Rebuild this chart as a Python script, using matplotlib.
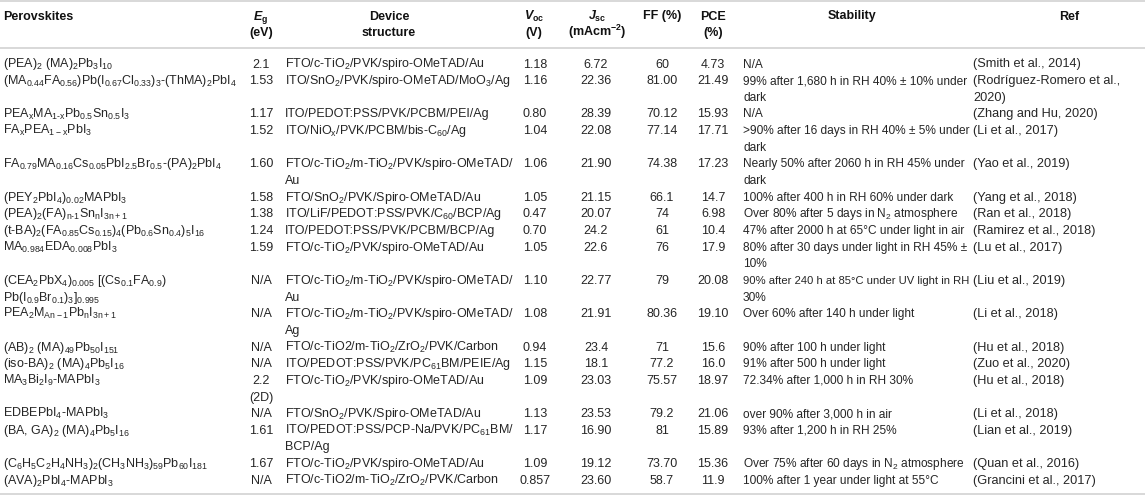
import matplotlib
matplotlib.use("Agg")
import matplotlib.pyplot as plt

plt.rcParams["font.family"] = ["Liberation Sans", "DejaVu Sans"]
plt.rcParams["mathtext.fontset"] = "custom"
plt.rcParams["mathtext.rm"] = "Liberation Sans"
plt.rcParams["mathtext.it"] = "Liberation Sans:italic:bold"
plt.rcParams["mathtext.bf"] = "Liberation Sans:bold"
plt.rcParams["mathtext.default"] = "regular"

# table content, one entry per row, "\n" = line break as in the original
perovskites = [
    r"(PEA)$_2$ (MA)$_2$Pb$_3$I$_{10}$",
    r"(MA$_{0.44}$FA$_{0.56}$)Pb(I$_{0.67}$Cl$_{0.33}$)$_3$-(ThMA)$_2$PbI$_4$",
    r"PEA$_x$MA$_{\text{1-x}}$Pb$_{0.5}$Sn$_{0.5}$I$_3$",
    r"FA$_x$PEA$_{1-x}$PbI$_3$",
    r"FA$_{0.79}$MA$_{0.16}$Cs$_{0.05}$PbI$_{2.5}$Br$_{0.5}$-(PA)$_2$PbI$_4$",
    r"(PEY$_2$PbI$_4$)$_{0.02}$MAPbI$_3$",
    r"(PEA)$_2$(FA)$_{\text{n-1}}$Sn$_n$I$_{3n+1}$",
    r"(t-BA)$_2$(FA$_{0.85}$Cs$_{0.15}$)$_4$(Pb$_{0.6}$Sn$_{0.4}$)$_5$I$_{16}$",
    r"MA$_{0.984}$EDA$_{0.008}$PbI$_3$",
    "(CEA$_2$PbX$_4$)$_{0.005}$ [(Cs$_{0.1}$FA$_{0.9}$)\nPb(I$_{0.9}$Br$_{0.1}$)$_3$]$_{0.995}$",
    r"PEA$_2$M$_{An-1}$Pb$_n$I$_{3n+1}$",
    r"(AB)$_2$ (MA)$_{49}$Pb$_{50}$I$_{151}$",
    r"(iso-BA)$_2$ (MA)$_4$Pb$_5$I$_{16}$",
    r"MA$_3$Bi$_2$I$_9$-MAPbI$_3$",
    r"EDBEPbI$_4$-MAPbI$_3$",
    r"(BA, GA)$_2$ (MA)$_4$Pb$_5$I$_{16}$",
    r"(C$_6$H$_5$C$_2$H$_4$NH$_3$)$_2$(CH$_3$NH$_3$)$_{59}$Pb$_{60}$I$_{181}$",
    r"(AVA)$_2$PbI$_4$-MAPbI$_3$",
]
band_gaps = ["2.1", "1.53", "1.17", "1.52", "1.60", "1.58", "1.38", "1.24", "1.59",
             "N/A", "N/A", "N/A", "N/A", "2.2\n(2D)", "N/A", "1.61", "1.67", "N/A"]
devices = [
    r"FTO/c-TiO$_2$/PVK/spiro-OMeTAD/Au",
    r"ITO/SnO$_2$/PVK/spiro-OMeTAD/MoO$_3$/Ag",
    r"ITO/PEDOT:PSS/PVK/PCBM/PEI/Ag",
    r"ITO/NiO$_x$/PVK/PCBM/bis-C$_{60}$/Ag",
    "FTO/c-TiO$_2$/m-TiO$_2$/PVK/spiro-OMeTAD/\nAu",
    r"FTO/SnO$_2$/PVK/Spiro-OMeTAD/Au",
    r"ITO/LiF/PEDOT:PSS/PVK/C$_{60}$/BCP/Ag",
    r"ITO/PEDOT:PSS/PVK/PCBM/BCP/Ag",
    r"FTO/c-TiO$_2$/PVK/spiro-OMeTAD/Au",
    "FTO/c-TiO$_2$/m-TiO$_2$/PVK/spiro-OMeTAD/\nAu",
    "FTO/c-TiO$_2$/m-TiO$_2$/PVK/spiro-OMeTAD/\nAg",
    r"FTO/c-TiO2/m-TiO$_2$/ZrO$_2$/PVK/Carbon",
    r"ITO/PEDOT:PSS/PVK/PC$_{61}$BM/PEIE/Ag",
    r"FTO/c-TiO$_2$/PVK/spiro-OMeTAD/Au",
    r"FTO/SnO$_2$/PVK/Spiro-OMeTAD/Au",
    "ITO/PEDOT:PSS/PCP-Na/PVK/PC$_{61}$BM/\nBCP/Ag",
    r"FTO/c-TiO$_2$/PVK/spiro-OMeTAD/Au",
    r"FTO/c-TiO2/m-TiO$_2$/ZrO$_2$/PVK/Carbon",
]
voc = ["1.18", "1.16", "0.80", "1.04", "1.06", "1.05", "0.47", "0.70", "1.05",
       "1.10", "1.08", "0.94", "1.15", "1.09", "1.13", "1.17", "1.09", "0.857"]
jsc = ["6.72", "22.36", "28.39", "22.08", "21.90", "21.15", "20.07", "24.2", "22.6",
       "22.77", "21.91", "23.4", "18.1", "23.03", "23.53", "16.90", "19.12", "23.60"]
ff = ["60", "81.00", "70.12", "77.14", "74.38", "66.1", "74", "61", "76",
      "79", "80.36", "71", "77.2", "75.57", "79.2", "81", "73.70", "58.7"]
pce = ["4.73", "21.49", "15.93", "17.71", "17.23", "14.7", "6.98", "10.4", "17.9",
       "20.08", "19.10", "15.6", "16.0", "18.97", "21.06", "15.89", "15.36", "11.9"]
stability = [
    "N/A",
    "99% after 1,680 h in RH 40% ± 10% under\ndark",
    "N/A",
    ">90% after 16 days in RH 40% ± 5% under\ndark",
    "Nearly 50% after 2060 h in RH 45% under\ndark",
    "100% after 400 h in RH 60% under dark",
    "Over 80% after 5 days in N$_2$ atmosphere",
    "47% after 2000 h at 65°C under light in air",
    "80% after 30 days under light in RH 45% ±\n10%",
    "90% after 240 h at 85°C under UV light in RH\n30%",
    "Over 60% after 140 h under light",
    "90% after 100 h under light",
    "91% after 500 h under light",
    "72.34% after 1,000 h in RH 30%",
    "over 90% after 3,000 h in air",
    "93% after 1,200 h in RH 25%",
    "Over 75% after 60 days in N$_2$ atmosphere",
    "100% after 1 year under light at 55°C",
]
refs = ["(Smith et al., 2014)", "(Rodríguez-Romero et al.,\n2020)", "(Zhang and Hu, 2020)",
        "(Li et al., 2017)", "(Yao et al., 2019)", "(Yang et al., 2018)", "(Ran et al., 2018)",
        "(Ramirez et al., 2018)", "(Lu et al., 2017)", "(Liu et al., 2019)", "(Li et al., 2018)",
        "(Hu et al., 2018)", "(Zuo et al., 2020)", "(Hu et al., 2018)", "(Li et al., 2018)",
        "(Lian et al., 2019)", "(Quan et al., 2016)", "(Grancini et al., 2017)"]

headers = [
    ("Perovskites", 3, "left"),
    ("$\\mathit{E}_{\\mathbf{g}}$\n(eV)", 261, "center"),
    ("Device\nstructure", 389, "center"),
    ("$\\mathit{V}_{\\mathbf{oc}}$\n(V)", 534, "center"),
    ("$\\mathit{J}_{\\mathbf{sc}}$\n(mAcm$^{\\mathbf{-2}}$)", 597, "center"),
    ("FF (%)", 662, "center"),
    ("PCE\n(%)", 713, "center"),
    ("Stability", 852, "center"),
    ("Ref", 1069, "center"),
]

# (cells, x, alignment, font size, max width in px or None)
columns = [
    (perovskites, 3, "left", 9, None),
    (band_gaps, 261, "center", 9, None),
    (devices, 285, "left", 9, None),
    (voc, 535, "center", 9, None),
    (jsc, 596, "center", 9, None),
    (ff, 662, "center", 9, None),
    (pce, 713, "center", 9, None),
    (stability, 743, "left", 8.6, 225),
    (refs, 973, "left", 9.2, None),
]

txt_color = "#262626"
rule_color = "#d5d5d5"
pitch = 16.65
first_base = 67.5

fig = plt.figure(figsize=(11.45, 4.96), dpi=100)
ax = fig.add_axes([0, 0, 1, 1])
ax.set_xlim(0, 1145)
ax.set_ylim(496, 0)
ax.axis("off")
renderer = fig.canvas.get_renderer()

for y in (1, 47.5, 493.5):
    ax.axhline(y, color=rule_color, lw=1.3)

for label, x, ha in headers:
    for j, part in enumerate(label.split("\n")):
        ax.text(x, 19.5 + 16.5 * j, part, ha=ha, va="baseline", fontsize=9,
                fontweight="bold", color="#111111")

# each row is as tall as its tallest cell
n_lines = [max(len(c[0][i].split("\n")) for c in columns) for i in range(len(perovskites))]
start = 0
for i, n in enumerate(n_lines):
    for col, x, ha, fs, max_w in columns:
        for j, part in enumerate(col[i].split("\n")):
            t = ax.text(x, first_base + pitch * (start + j), part, ha=ha, va="baseline",
                        fontsize=fs, color=txt_color)
            if max_w:
                w = t.get_window_extent(renderer).width
                if w > max_w:
                    t.set_fontsize(fs * max_w / w)
    start += n

fig.savefig("out.png", dpi=100)
